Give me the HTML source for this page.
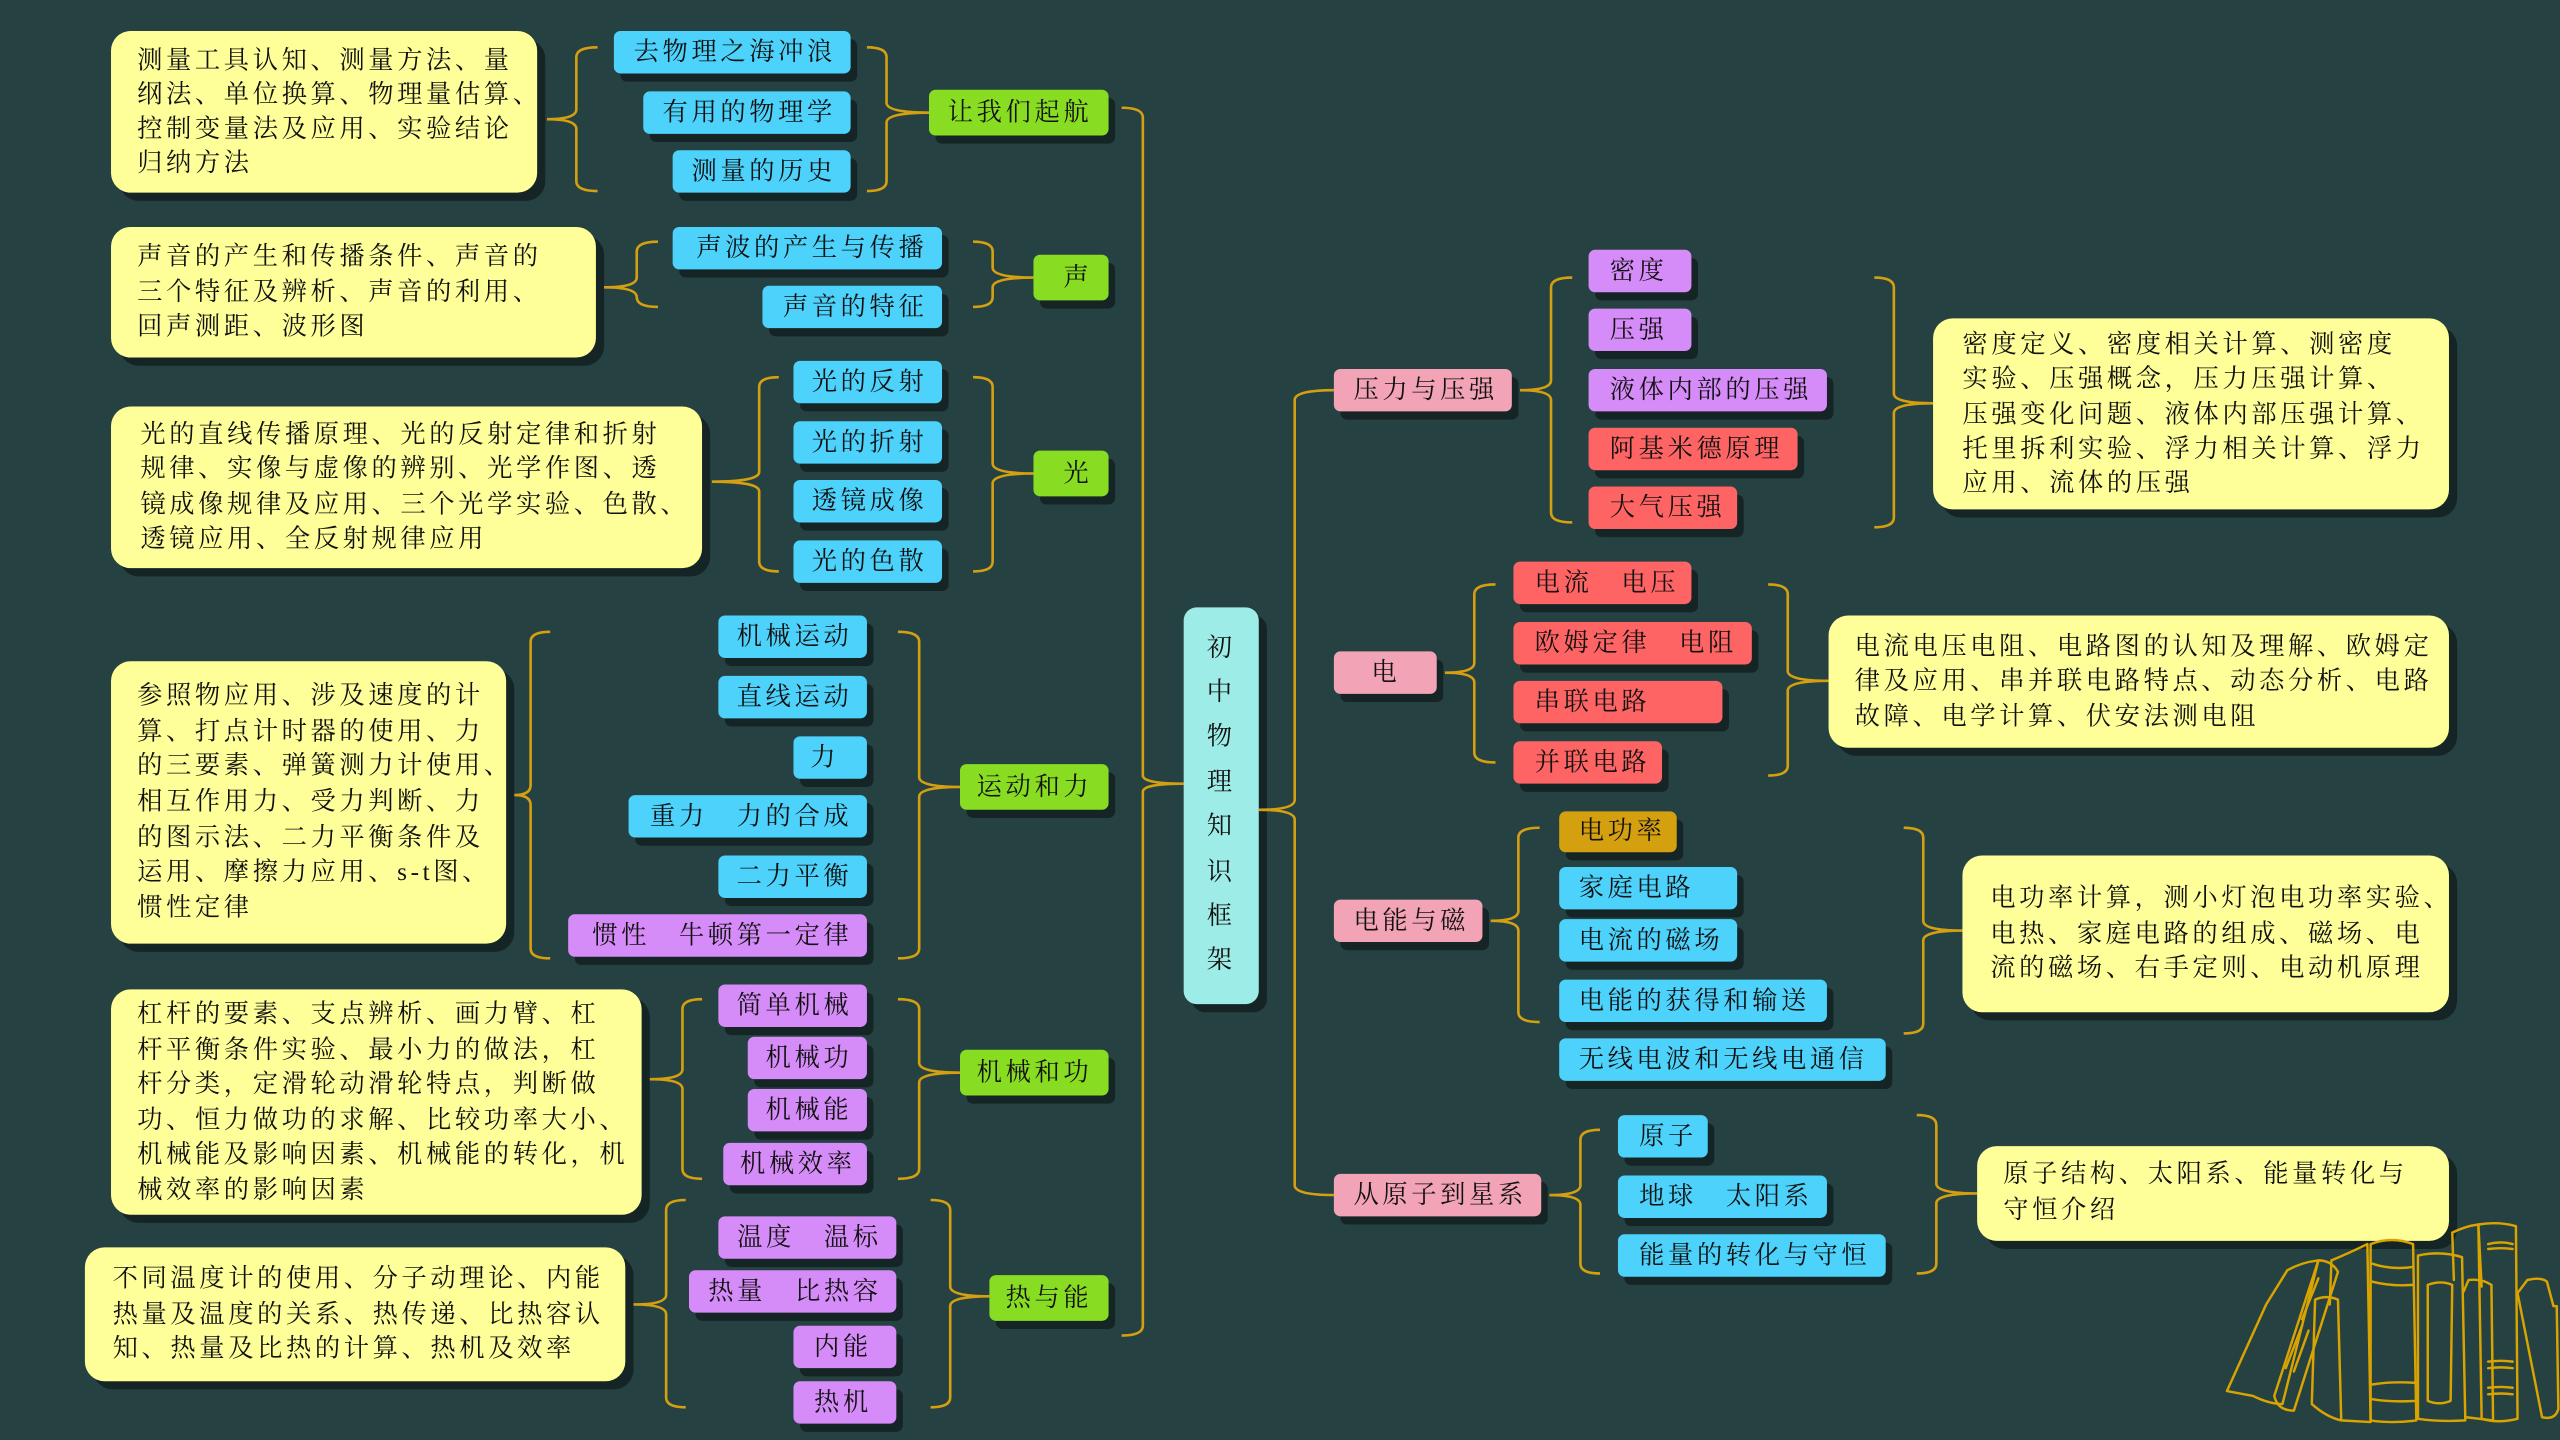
<!DOCTYPE html>
<html><head><meta charset="utf-8"><style>
html,body{margin:0;padding:0;background:#264142;}
svg{display:block}
text{font-family:"Liberation Serif","Noto Serif CJK SC","Noto Sans CJK SC",serif;font-size:15.5px;fill:#111;dominant-baseline:central;letter-spacing:2.2px}
.br{fill:none;stroke:#d4a012;stroke-width:1.6}
.bk{fill:none;stroke:#d9a400;stroke-width:1.5;stroke-linejoin:round;stroke-linecap:round}
</style></head><body>
<svg width="2560" height="1440" viewBox="0 0 1568 882" preserveAspectRatio="none" xmlns="http://www.w3.org/2000/svg">
<rect width="1568" height="882" fill="#264142"/>
<defs>
<filter id="n"/>
</defs>

<!-- ===== shadows ===== -->
<g fill="#152526">
<rect x="730" y="377" width="46" height="243" rx="8"/>
<!-- notes -->
<rect x="73" y="24" width="261" height="99" rx="12"/>
<rect x="73" y="144" width="297" height="80" rx="12"/>
<rect x="73" y="254" width="362" height="99" rx="12"/>
<rect x="73" y="410" width="242" height="173" rx="12"/>
<rect x="73" y="611" width="325" height="138" rx="12"/>
<rect x="57" y="769" width="331" height="82" rx="12"/>
<rect x="1189" y="200" width="316" height="117" rx="12"/>
<rect x="1125" y="382" width="380" height="81" rx="12"/>
<rect x="1207" y="529" width="298" height="96" rx="12"/>
<rect x="1216" y="707" width="289" height="58" rx="12"/>
</g>

<!-- ===== brackets ===== -->
<g class="br">
<!-- left main spine -->
<path d="M687 66 Q700 66 700 72 V475 Q700 480 725 480 Q700 480 700 485 V812 Q700 818 687 818"/>
<!-- right main spine -->
<path d="M817 239 Q793 239 793 245 V490 Q793 496 771 496 Q793 496 793 502 V726 Q793 732 817 732"/>

<!-- 让我们起航 -->
<path d="M366 29 Q353 29 353 35 V67 Q353 73 335 73 Q353 73 353 79 V111 Q353 117 366 117"/>
<path d="M531 29 Q543 29 543 35 V63 Q543 69 569 69 Q543 69 543 75 V111 Q543 117 531 117"/>
<!-- 声 -->
<path d="M403 148 Q390 148 390 154 V170 Q390 176 370 176 Q390 176 390 182 V182 Q390 188 403 188"/>
<path d="M596 148 Q608 148 608 154 V164 Q608 170 633 170 Q608 170 608 176 V182 Q608 188 596 188"/>
<!-- 光 -->
<path d="M477 231 Q465 231 465 237 V289 Q465 295 436 295 Q465 295 465 301 V344 Q465 350 477 350"/>
<path d="M596 231 Q608 231 608 237 V284 Q608 290 633 290 Q608 290 608 296 V344 Q608 350 596 350"/>
<!-- 运动和力 -->
<path d="M337 387 Q325 387 325 393 V481 Q325 487 315 487 Q325 487 325 493 V581 Q325 587 337 587"/>
<path d="M550 387 Q563 387 563 393 V476 Q563 482 588 482 Q563 482 563 488 V581 Q563 587 550 587"/>
<!-- 机械和功 -->
<path d="M430 612 Q418 612 418 618 V655 Q418 661 398 661 Q418 661 418 667 V716 Q418 722 430 722"/>
<path d="M550 612 Q563 612 563 618 V651 Q563 657 588 657 Q563 657 563 663 V716 Q563 722 550 722"/>
<!-- 热与能 -->
<path d="M420 735 Q408 735 408 741 V793 Q408 799 388 799 Q408 799 408 805 V856 Q408 862 420 862"/>
<path d="M570 735 Q582 735 582 741 V788 Q582 794 606 794 Q582 794 582 800 V856 Q582 862 570 862"/>

<!-- 压力与压强 -->
<path d="M963 170 Q950 170 950 176 V233 Q950 239 931 239 Q950 239 950 245 V314 Q950 320 963 320"/>
<path d="M1148 170 Q1160 170 1160 176 V241 Q1160 247 1184 247 Q1160 247 1160 253 V317 Q1160 323 1148 323"/>
<!-- 电 -->
<path d="M916 358 Q903 358 903 364 V406 Q903 412 885 412 Q903 412 903 418 V461 Q903 467 916 467"/>
<path d="M1083 358 Q1095 358 1095 364 V411 Q1095 417 1120 417 Q1095 417 1095 423 V469 Q1095 475 1083 475"/>
<!-- 电能与磁 -->
<path d="M943 507 Q930 507 930 513 V558 Q930 564 913 564 Q930 564 930 570 V620 Q930 626 943 626"/>
<path d="M1166 507 Q1178 507 1178 513 V564 Q1178 570 1202 570 Q1178 570 1178 576 V627 Q1178 633 1166 633"/>
<!-- 从原子到星系 -->
<path d="M980 692 Q968 692 968 698 V726 Q968 732 949 732 Q968 732 968 738 V774 Q968 780 980 780"/>
<path d="M1174 683 Q1186 683 1186 689 V725 Q1186 731 1211 731 Q1186 731 1186 737 V774 Q1186 780 1174 780"/>
</g>

<!-- ===== center ===== -->
<rect x="725" y="372" width="46" height="243" rx="8" fill="#9eece8"/>
<g style="font-size:18px;letter-spacing:0" text-anchor="middle">
<text x="748" y="397">初</text><text x="748" y="424">中</text><text x="748" y="451">物</text>
<text x="748" y="479">理</text><text x="748" y="506">知</text><text x="748" y="534">识</text>
<text x="748" y="561">框</text><text x="748" y="588">架</text>
</g>

<!-- ===== node helper: shadow + box ===== -->
<g id="nodes">
<!-- shadows for all small nodes -->
<g fill="#152526">
<rect x="573" y="60" width="110" height="28" rx="4"/>
<rect x="637" y="161" width="46" height="28" rx="4"/>
<rect x="637" y="281" width="46" height="28" rx="4"/>
<rect x="592" y="473" width="91" height="28" rx="4"/>
<rect x="592" y="648" width="91" height="28" rx="4"/>
<rect x="610" y="786" width="73" height="28" rx="4"/>
<rect x="380" y="24" width="145" height="26" rx="4"/>
<rect x="398" y="61" width="127" height="26" rx="4"/>
<rect x="416" y="97" width="109" height="26" rx="4"/>
<rect x="416" y="144" width="165" height="26" rx="4"/>
<rect x="471" y="180" width="110" height="26" rx="4"/>
<rect x="490" y="226" width="91" height="26" rx="4"/>
<rect x="490" y="263" width="91" height="26" rx="4"/>
<rect x="490" y="299" width="91" height="26" rx="4"/>
<rect x="490" y="336" width="91" height="26" rx="4"/>
<rect x="444" y="382" width="91" height="26" rx="4"/>
<rect x="444" y="419" width="91" height="26" rx="4"/>
<rect x="490" y="456" width="45" height="26" rx="4"/>
<rect x="389" y="492" width="146" height="26" rx="4"/>
<rect x="444" y="529" width="91" height="26" rx="4"/>
<rect x="352" y="565" width="183" height="26" rx="4"/>
<rect x="444" y="608" width="91" height="26" rx="4"/>
<rect x="462" y="640" width="73" height="26" rx="4"/>
<rect x="462" y="672" width="73" height="26" rx="4"/>
<rect x="447" y="705" width="88" height="26" rx="4"/>
<rect x="444" y="750" width="109" height="26" rx="4"/>
<rect x="426" y="783" width="127" height="26" rx="4"/>
<rect x="490" y="817" width="63" height="26" rx="4"/>
<rect x="490" y="851" width="63" height="26" rx="4"/>
<rect x="821" y="231" width="109" height="26" rx="4"/>
<rect x="821" y="404" width="63" height="26" rx="4"/>
<rect x="821" y="556" width="91" height="26" rx="4"/>
<rect x="821" y="724" width="127" height="26" rx="4"/>
<rect x="977" y="158" width="63" height="26" rx="4"/>
<rect x="977" y="194" width="63" height="26" rx="4"/>
<rect x="977" y="231" width="146" height="26" rx="4"/>
<rect x="977" y="267" width="128" height="26" rx="4"/>
<rect x="977" y="303" width="91" height="26" rx="4"/>
<rect x="931" y="349" width="109" height="26" rx="4"/>
<rect x="931" y="386" width="146" height="26" rx="4"/>
<rect x="931" y="422" width="128" height="26" rx="4"/>
<rect x="931" y="459" width="91" height="26" rx="4"/>
<rect x="959" y="502" width="72" height="25" rx="4"/>
<rect x="959" y="536" width="109" height="26" rx="4"/>
<rect x="959" y="568" width="109" height="26" rx="4"/>
<rect x="959" y="605" width="164" height="26" rx="4"/>
<rect x="959" y="641" width="200" height="26" rx="4"/>
<rect x="995" y="688" width="55" height="26" rx="4"/>
<rect x="995" y="725" width="128" height="26" rx="4"/>
<rect x="995" y="761" width="164" height="26" rx="4"/>
</g>

<!-- green -->
<g fill="#88dd22">
<rect x="569" y="55" width="110" height="28" rx="4"/>
<rect x="633" y="156" width="46" height="28" rx="4"/>
<rect x="633" y="276" width="46" height="28" rx="4"/>
<rect x="588" y="468" width="91" height="28" rx="4"/>
<rect x="588" y="643" width="91" height="28" rx="4"/>
<rect x="606" y="781" width="73" height="28" rx="4"/>
</g>
<!-- blue -->
<g fill="#4dd2fb">
<rect x="376" y="19" width="145" height="26" rx="4"/>
<rect x="394" y="56" width="127" height="26" rx="4"/>
<rect x="412" y="92" width="109" height="26" rx="4"/>
<rect x="412" y="139" width="165" height="26" rx="4"/>
<rect x="467" y="175" width="110" height="26" rx="4"/>
<rect x="486" y="221" width="91" height="26" rx="4"/>
<rect x="486" y="258" width="91" height="26" rx="4"/>
<rect x="486" y="294" width="91" height="26" rx="4"/>
<rect x="486" y="331" width="91" height="26" rx="4"/>
<rect x="440" y="377" width="91" height="26" rx="4"/>
<rect x="440" y="414" width="91" height="26" rx="4"/>
<rect x="486" y="451" width="45" height="26" rx="4"/>
<rect x="385" y="487" width="146" height="26" rx="4"/>
<rect x="440" y="524" width="91" height="26" rx="4"/>
<rect x="955" y="531" width="109" height="26" rx="4"/>
<rect x="955" y="563" width="109" height="26" rx="4"/>
<rect x="955" y="600" width="164" height="26" rx="4"/>
<rect x="955" y="636" width="200" height="26" rx="4"/>
<rect x="991" y="683" width="55" height="26" rx="4"/>
<rect x="991" y="720" width="128" height="26" rx="4"/>
<rect x="991" y="756" width="164" height="26" rx="4"/>
</g>
<!-- purple -->
<g fill="#d68cf8">
<rect x="348" y="560" width="183" height="26" rx="4"/>
<rect x="440" y="603" width="91" height="26" rx="4"/>
<rect x="458" y="635" width="73" height="26" rx="4"/>
<rect x="458" y="667" width="73" height="26" rx="4"/>
<rect x="443" y="700" width="88" height="26" rx="4"/>
<rect x="440" y="745" width="109" height="26" rx="4"/>
<rect x="422" y="778" width="127" height="26" rx="4"/>
<rect x="486" y="812" width="63" height="26" rx="4"/>
<rect x="486" y="846" width="63" height="26" rx="4"/>
<rect x="973" y="153" width="63" height="26" rx="4"/>
<rect x="973" y="189" width="63" height="26" rx="4"/>
<rect x="973" y="226" width="146" height="26" rx="4"/>
</g>
<!-- red -->
<g fill="#ff6464">
<rect x="973" y="262" width="128" height="26" rx="4"/>
<rect x="973" y="298" width="91" height="26" rx="4"/>
<rect x="927" y="344" width="109" height="26" rx="4"/>
<rect x="927" y="381" width="146" height="26" rx="4"/>
<rect x="927" y="417" width="128" height="26" rx="4"/>
<rect x="927" y="454" width="91" height="26" rx="4"/>
</g>
<!-- pink -->
<g fill="#f2a3b5">
<rect x="817" y="226" width="109" height="26" rx="4"/>
<rect x="817" y="399" width="63" height="26" rx="4"/>
<rect x="817" y="551" width="91" height="26" rx="4"/>
<rect x="817" y="719" width="127" height="26" rx="4"/>
</g>
<rect x="955" y="497" width="72" height="25" rx="4" fill="#d4a010"/>

<!-- notes -->
<g fill="#ffff99">
<rect x="68" y="19" width="261" height="99" rx="12"/>
<rect x="68" y="139" width="297" height="80" rx="12"/>
<rect x="68" y="249" width="362" height="99" rx="12"/>
<rect x="68" y="405" width="242" height="173" rx="12"/>
<rect x="68" y="606" width="325" height="138" rx="12"/>
<rect x="52" y="764" width="331" height="82" rx="12"/>
<rect x="1184" y="195" width="316" height="117" rx="12"/>
<rect x="1120" y="377" width="380" height="81" rx="12"/>
<rect x="1202" y="524" width="298" height="96" rx="12"/>
<rect x="1211" y="702" width="289" height="58" rx="12"/>
</g>
</g>

<!-- ===== node texts (left side: right aligned) ===== -->
<g text-anchor="end">
<text x="669" y="69">让我们起航</text>
<text x="669" y="170">声</text>
<text x="669" y="290">光</text>
<text x="669" y="482">运动和力</text>
<text x="669" y="657">机械和功</text>
<text x="669" y="795">热与能</text>
<text x="512" y="32">去物理之海冲浪</text>
<text x="512" y="69">有用的物理学</text>
<text x="512" y="105">测量的历史</text>
<text x="568" y="152">声波的产生与传播</text>
<text x="568" y="188">声音的特征</text>
<text x="568" y="234">光的反射</text>
<text x="568" y="271">光的折射</text>
<text x="568" y="307">透镜成像</text>
<text x="568" y="344">光的色散</text>
<text x="522" y="390">机械运动</text>
<text x="522" y="427">直线运动</text>
<text x="514" y="464">力</text>
<text x="522" y="500">重力　力的合成</text>
<text x="522" y="537">二力平衡</text>
<text x="522" y="573">惯性　牛顿第一定律</text>
<text x="522" y="616">简单机械</text>
<text x="522" y="648">机械功</text>
<text x="522" y="680">机械能</text>
<text x="524" y="713">机械效率</text>
<text x="540" y="758">温度　温标</text>
<text x="540" y="791">热量　比热容</text>
<text x="534" y="825">内能</text>
<text x="534" y="859">热机</text>
</g>
<!-- right side -->
<g>
<text x="829" y="239">压力与压强</text>
<text x="840" y="412">电</text>
<text x="829" y="564">电能与磁</text>
<text x="829" y="732">从原子到星系</text>
<text x="986" y="166">密度</text>
<text x="986" y="202">压强</text>
<text x="986" y="239">液体内部的压强</text>
<text x="986" y="275">阿基米德原理</text>
<text x="986" y="311">大气压强</text>
<text x="940" y="357">电流　电压</text>
<text x="940" y="394">欧姆定律　电阻</text>
<text x="940" y="430">串联电路</text>
<text x="940" y="467">并联电路</text>
<text x="967" y="509">电功率</text>
<text x="967" y="544">家庭电路</text>
<text x="967" y="576">电流的磁场</text>
<text x="967" y="613">电能的获得和输送</text>
<text x="967" y="649">无线电波和无线电通信</text>
<text x="1004" y="696">原子</text>
<text x="1004" y="733">地球　太阳系</text>
<text x="1004" y="769">能量的转化与守恒</text>
</g>

<!-- ===== notes text ===== -->
<g>
<text x="84" y="37">测量工具认知、测量方法、量</text>
<text x="84" y="58">纲法、单位换算、物理量估算、</text>
<text x="84" y="79">控制变量法及应用、实验结论</text>
<text x="84" y="100">归纳方法</text>

<text x="84" y="157">声音的产生和传播条件、声音的</text>
<text x="84" y="179">三个特征及辨析、声音的利用、</text>
<text x="84" y="200">回声测距、波形图</text>

<text x="86" y="266">光的直线传播原理、光的反射定律和折射</text>
<text x="86" y="287">规律、实像与虚像的辨别、光学作图、透</text>
<text x="86" y="309">镜成像规律及应用、三个光学实验、色散、</text>
<text x="86" y="330">透镜应用、全反射规律应用</text>

<text x="84" y="426">参照物应用、涉及速度的计</text>
<text x="84" y="448">算、打点计时器的使用、力</text>
<text x="84" y="469">的三要素、弹簧测力计使用、</text>
<text x="84" y="491">相互作用力、受力判断、力</text>
<text x="84" y="513">的图示法、二力平衡条件及</text>
<text x="84" y="534">运用、摩擦力应用、s-t图、</text>
<text x="84" y="556">惯性定律</text>

<text x="84" y="621">杠杆的要素、支点辨析、画力臂、杠</text>
<text x="84" y="643">杆平衡条件实验、最小力的做法，杠</text>
<text x="84" y="664">杆分类，定滑轮动滑轮特点，判断做</text>
<text x="84" y="686">功、恒力做功的求解、比较功率大小、</text>
<text x="84" y="707">机械能及影响因素、机械能的转化，机</text>
<text x="84" y="729">械效率的影响因素</text>

<text x="69" y="783">不同温度计的使用、分子动理论、内能</text>
<text x="69" y="805">热量及温度的关系、热传递、比热容认</text>
<text x="69" y="826">知、热量及比热的计算、热机及效率</text>

<text x="1202" y="211">密度定义、密度相关计算、测密度</text>
<text x="1202" y="232">实验、压强概念，压力压强计算、</text>
<text x="1202" y="254">压强变化问题、液体内部压强计算、</text>
<text x="1202" y="275">托里拆利实验、浮力相关计算、浮力</text>
<text x="1202" y="296">应用、流体的压强</text>

<text x="1136" y="396">电流电压电阻、电路图的认知及理解、欧姆定</text>
<text x="1136" y="417">律及应用、串并联电路特点、动态分析、电路</text>
<text x="1136" y="439">故障、电学计算、伏安法测电阻</text>

<text x="1219" y="550">电功率计算，测小灯泡电功率实验、</text>
<text x="1219" y="572">电热、家庭电路的组成、磁场、电</text>
<text x="1219" y="593">流的磁场、右手定则、电动机原理</text>

<text x="1227" y="719">原子结构、太阳系、能量转化与</text>
<text x="1227" y="741">守恒介绍</text>
</g>

<!-- ===== books ===== -->
<g class="bk">
<path d="M1364 852 L1388 799 L1401 778 Q1410 773 1420 772 L1398 860 Q1390 860 1380 855 Z"/>
<path d="M1420 772 Q1428 772 1432 779 L1405 864 Q1395 864 1393 855 Z"/>
<path d="M1400 838 L1410 812 M1405 840 L1414 815 M1410 808 L1420 783"/>
<path d="M1416 859 L1418 796 Q1425 793 1432 796 L1434 870 Q1425 868 1416 860"/>
<path d="M1427 799 L1428 772 Q1440 767 1450 762 L1452 871 L1434 870"/>
<path d="M1452 762 Q1465 757 1478 762 L1480 870 Q1465 872 1452 870 Z"/>
<path d="M1453 774 Q1465 778 1478 776 M1453 785 Q1465 788 1478 787 M1453 848 Q1465 846 1480 847 M1453 857 Q1465 859 1480 858"/>
<path d="M1481 769 Q1495 766 1508 770 L1510 870 Q1495 871 1481 869 Z"/>
<path d="M1487 787 Q1495 784 1502 787 L1501 858 Q1494 861 1487 858 Z"/>
<path d="M1509 791 L1512 784 Q1520 783 1526 787 L1527 870 L1510 868"/>
<path d="M1503 784 L1502 755 Q1510 751 1518 750 L1520 788"/>
<path d="M1518 750 Q1530 748 1541 751 L1542 869 Q1530 872 1520 869 Z"/>
<path d="M1524 762 Q1532 760 1539 762 M1524 765 Q1532 764 1539 765 M1524 834 Q1532 833 1539 834 M1524 838 Q1532 837 1539 838 M1524 850 Q1532 849 1539 850 M1524 854 Q1532 853 1539 854"/>
<path d="M1542 792 L1548 784 Q1556 782 1560 785 L1564 800 L1565 800"/>
<path d="M1542 792 L1557 868 Q1565 870 1567 863 L1566 800"/>
</g>
</svg>
</body></html>
